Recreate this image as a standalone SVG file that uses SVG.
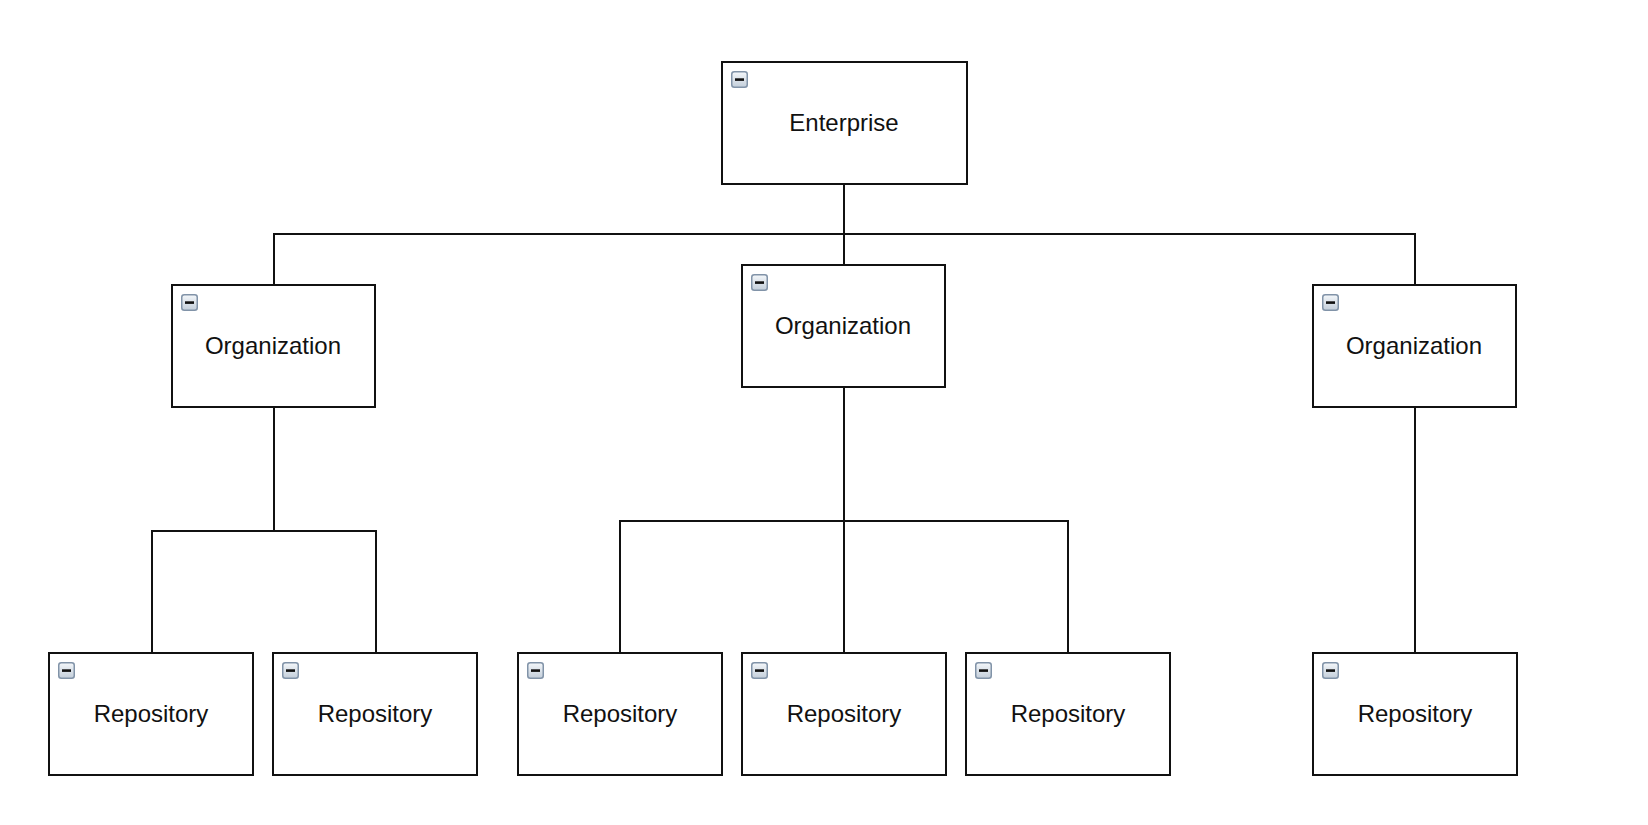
<svg xmlns="http://www.w3.org/2000/svg" width="1648" height="825" viewBox="0 0 1648 825">
<style>
.box{fill:#fff;stroke:#111;stroke-width:2}
.lbl{font-family:"Liberation Sans",Arial,sans-serif;font-size:24px;fill:#111;text-anchor:middle}
.conn{fill:none;stroke:#111;stroke-width:2}
</style>
<defs>
<linearGradient id="ig" x1="0" y1="0" x2="0" y2="1">
<stop offset="0" stop-color="#f4f7fa"/>
<stop offset="1" stop-color="#c3ceda"/>
</linearGradient>
<g id="icon">
<rect x="0.75" y="0.75" width="15.5" height="15.5" rx="2.5" fill="url(#ig)" stroke="#8193a8" stroke-width="1.5"/>
<rect x="4" y="7.3" width="9" height="2.6" fill="#111"/>
</g>
</defs>
<rect width="1648" height="825" fill="#fff"/>
<g id="connectors">
<path class="conn" d="M844 184 V265 M274 285 V234 H1415 V285"/>
<path class="conn" d="M274 407 V531 M152 653 V531 H376 V653"/>
<path class="conn" d="M844 387 V653 M620 653 V521 H1068 V653"/>
<path class="conn" d="M1415 407 V653"/>
</g>
<g id="enterprise"><rect class="box" x="722" y="62" width="245" height="122"/><use href="#icon" x="731" y="71"/><text class="lbl" x="844" y="131">Enterprise</text></g>
<g id="org1"><rect class="box" x="172" y="285" width="203" height="122"/><use href="#icon" x="181" y="294"/><text class="lbl" x="273" y="354">Organization</text></g>
<g id="org2"><rect class="box" x="742" y="265" width="203" height="122"/><use href="#icon" x="751" y="274"/><text class="lbl" x="843" y="334">Organization</text></g>
<g id="org3"><rect class="box" x="1313" y="285" width="203" height="122"/><use href="#icon" x="1322" y="294"/><text class="lbl" x="1414" y="354">Organization</text></g>
<g id="repo1"><rect class="box" x="49" y="653" width="204" height="122"/><use href="#icon" x="58" y="662"/><text class="lbl" x="151" y="722">Repository</text></g>
<g id="repo2"><rect class="box" x="273" y="653" width="204" height="122"/><use href="#icon" x="282" y="662"/><text class="lbl" x="375" y="722">Repository</text></g>
<g id="repo3"><rect class="box" x="518" y="653" width="204" height="122"/><use href="#icon" x="527" y="662"/><text class="lbl" x="620" y="722">Repository</text></g>
<g id="repo4"><rect class="box" x="742" y="653" width="204" height="122"/><use href="#icon" x="751" y="662"/><text class="lbl" x="844" y="722">Repository</text></g>
<g id="repo5"><rect class="box" x="966" y="653" width="204" height="122"/><use href="#icon" x="975" y="662"/><text class="lbl" x="1068" y="722">Repository</text></g>
<g id="repo6"><rect class="box" x="1313" y="653" width="204" height="122"/><use href="#icon" x="1322" y="662"/><text class="lbl" x="1415" y="722">Repository</text></g>
</svg>
